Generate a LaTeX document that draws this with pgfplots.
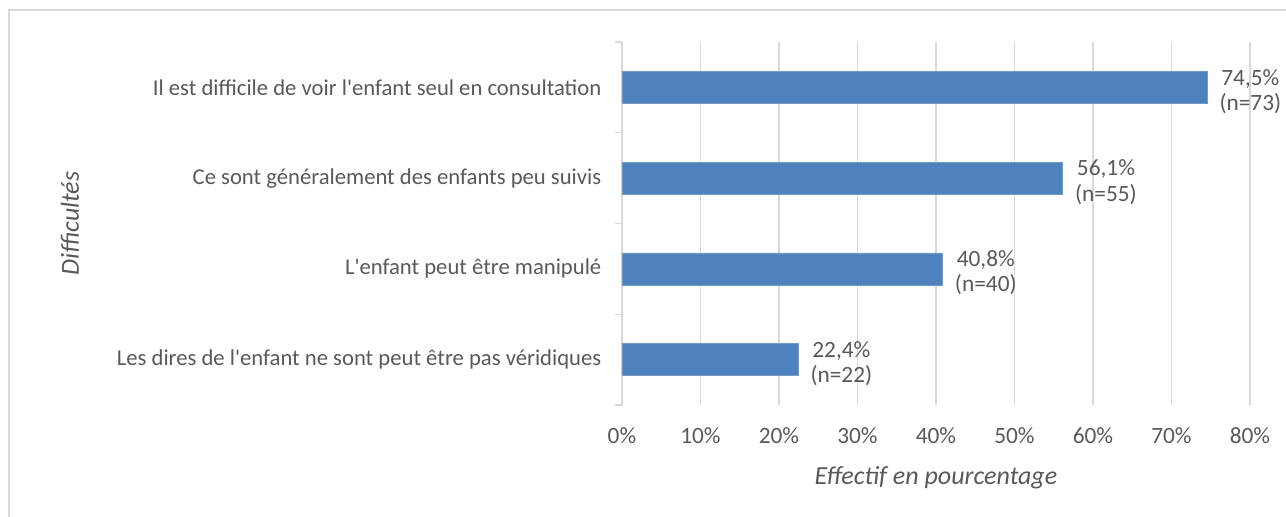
\documentclass[border=0pt]{standalone}
\usepackage{fontspec}
\setmainfont{Carlito}
\usepackage{pgfplots}
\usepackage{pgfplotstable}
\pgfplotsset{compat=1.18}
\definecolor{barblue}{HTML}{4F81BD}
\definecolor{txt}{HTML}{595959}
\definecolor{gridc}{HTML}{D9D9D9}
\newcommand\ap{\textquotesingle}
\newcommand\fs{\fontsize{17}{19}\selectfont}
\newcommand\fst{\fontsize{17.5}{19}\selectfont}
\newcommand\fsl{\fontsize{19.5}{21}\selectfont}
\pgfplotstableread{
y x n
0 22.4 22
1 40.8 40
2 56.1 55
3 74.5 73
}\datatable
\begin{document}
\begin{tikzpicture}[x=1pt,y=1pt]
\useasboundingbox (-466.5,-84) rectangle (498,303.75);
\draw[gridc, line width=1pt] (-459.75,-120) rectangle (540,296.25);
\begin{axis}[
  at={(0,0)}, anchor=south west,
  scale only axis, width=471pt, height=272.25pt,
  xbar, bar width=24pt, bar shift=0pt,
  xmin=0, xmax=80, ymin=-0.5, ymax=3.5,
  xtick={0,10,...,80},
  xticklabel={\pgfmathprintnumber{\tick}\%},
  /pgf/number format/assume math mode=true,
  ytick={0,1,2,3},
  yticklabels={Les dires de l\ap enfant ne sont peut être pas véridiques,
               L\ap enfant peut être manipulé,
               Ce sont généralement des enfants peu suivis,
               Il est difficile de voir l\ap enfant seul en consultation},
  minor ytick={-0.5,0.5,1.5,2.5,3.5},
  major tick length=0pt, minor tick length=5pt,
  tick align=outside,
  tick style={gridc, line width=1.1pt},
  axis x line*=bottom, axis y line*=left,
  x axis line style={draw=none},
  y axis line style={draw=gridc, line width=1.1pt, -},
  xmajorgrids, major grid style={gridc, line width=1.1pt},
  xticklabel style={font=\fst, text=txt, anchor=center, yshift=-23pt},
  yticklabel style={font=\fs, text=txt, anchor=east, xshift=-12pt},
  xlabel={Effectif en pourcentage},
  ylabel={Difficultés},
  xlabel style={font=\fsl\itshape, text=txt, at={(axis description cs:0.5,-0.2)}, anchor=center},
  ylabel style={font=\fsl\itshape, text=txt, at={(axis description cs:-0.879,0.5)}, anchor=center},
  point meta=x,
  visualization depends on={\thisrow{n} \as \nval},
  nodes near coords={\pgfmathprintnumber[fixed, fixed zerofill, precision=1, use comma]{\pgfplotspointmeta}\%\\(n=\pgfmathprintnumber{\nval})},
  every node near coord/.append style={font=\fst, text=txt, align=center, xshift=6pt, yshift=-3pt},
]
\addplot[fill=barblue, draw=barblue!80!white] table[x=x, y=y] {\datatable};
\end{axis}
\end{tikzpicture}
\end{document}
